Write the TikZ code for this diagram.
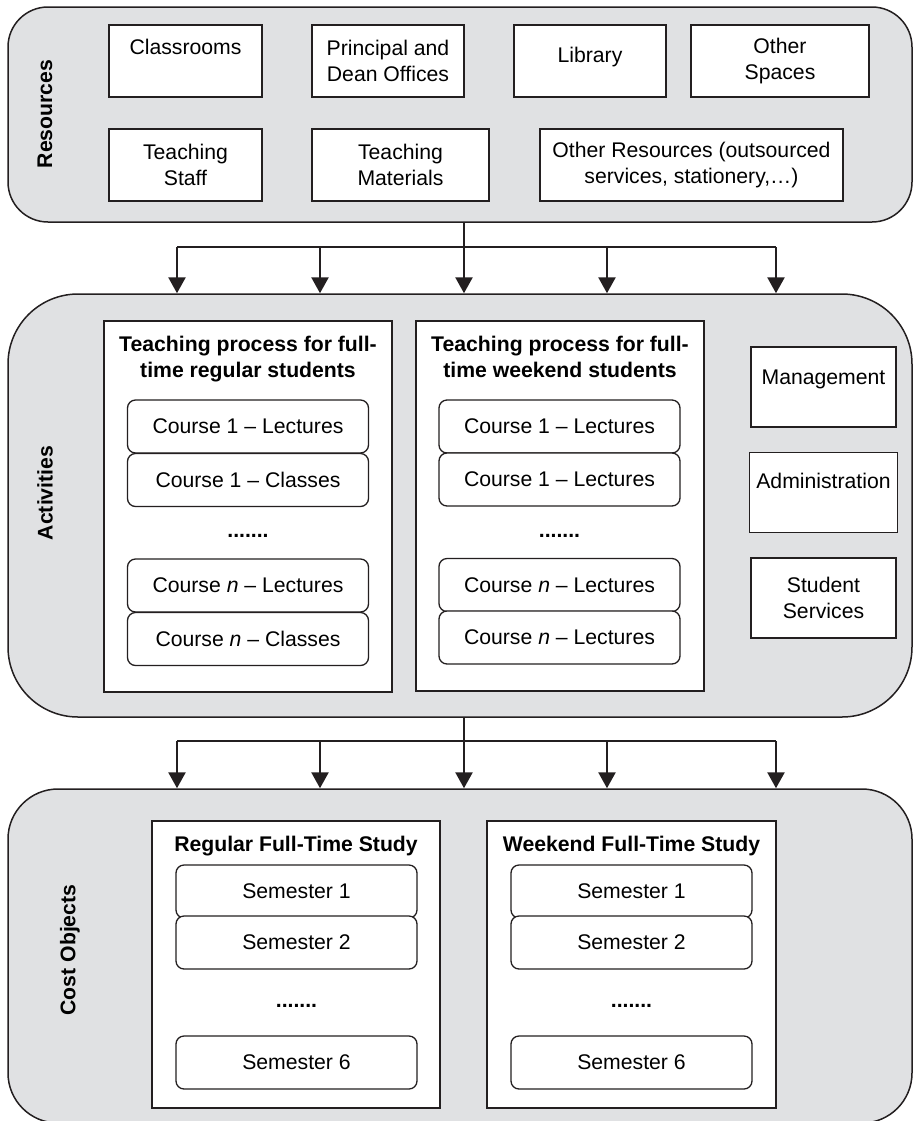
\documentclass[tikz,border=0pt]{standalone}
\usepackage{fontspec}
\setmainfont{Liberation Sans}
\usetikzlibrary{arrows.meta,positioning}

\definecolor{panelgray}{HTML}{E0E1E3}
\definecolor{inkgray}{HTML}{231F20}
\newcommand{\diagfont}{\fontsize{10.6}{13}\selectfont}

\tikzset{
  panel/.style={draw=inkgray, fill=panelgray, line width=0.75pt},
  sidelabel/.style={rotate=90, font=\diagfont\bfseries},
  resbox/.style={draw=inkgray, fill=white, line width=0.65pt, align=center, font=\diagfont, minimum height=36pt},
  lifted/.style={text height=8pt, text depth=#1},
  grpbox/.style={draw=inkgray, fill=white, line width=0.65pt},
  grptitle/.style={font=\diagfont\bfseries, align=center, inner sep=0pt},
  coursebox/.style={draw=inkgray, fill=white, line width=0.65pt, rounded corners=4pt, font=\diagfont, minimum width=120.5pt, minimum height=26.5pt},
  dotrow/.style={font=\diagfont\bfseries},
  link/.style={draw=inkgray, line width=0.65pt},
  freccia/.style={draw=inkgray, line width=1.3pt, -{Triangle[length=8pt,width=8.5pt]}}
}

\begin{document}
\begin{tikzpicture}[x=0.5pt, y=-0.5pt]
\useasboundingbox (0,0) rectangle (914,1121);
\clip (0,0) rectangle (914,1121);

% panels
\node[panel, rounded corners=20pt, minimum width=452pt, minimum height=107.5pt] (resources) at (460,114.5) {};
\node[panel, rounded corners=35pt, minimum width=452pt, minimum height=211.5pt] (activities) at (460,505.5) {};
\node[panel, rounded corners=25pt, minimum width=452pt, minimum height=167pt] (costobj) at (460,956) {};

\node[sidelabel] (reslabel) at (45,114) {Resources};
\node[sidelabel] (actlabel) at (45,493) {Activities};
\node[sidelabel] (costlabel) at (70,950) {Cost Objects};

% resources
\node[resbox, lifted=14.6pt, minimum width=76.5pt] (classrooms) at (185.5,61) {Classrooms};
\node[resbox, minimum width=76pt] (offices) at (388,61) {Principal and\\Dean Offices};
\node[resbox, lifted=6.8pt, minimum width=76pt] (library) at (590,61) {Library};
\node[resbox, minimum width=89pt] (spaces) at (780,61) {Other\\Spaces};
\node[resbox, minimum width=76.5pt] (staff) at (185.5,165) {Teaching\\Staff};
\node[resbox, minimum width=88.5pt] (materials) at (400.5,165) {Teaching\\Materials};
\node[resbox, minimum width=151.5pt] (otherres) at (691.5,165) {Other Resources (outsourced\\services, stationery,\dots)};

% resources -> activities
\foreach \x [count=\i] in {177,320,464,607,776} {
  \coordinate (t\i) at (\x,247);
  \draw[freccia] (t\i) -- (t\i |- activities.north);
}
\draw[link] (t3 |- resources.south) -- (t3);
\draw[link] (t1) -- (t5);

% activities
\node[grpbox, minimum width=144pt, minimum height=185.5pt] (grpreg) at (248,506.5) {};
\node[grptitle, below=7.5pt of grpreg.north] (titreg) {Teaching process for full-\\time regular students};
\node[coursebox] (reg1l) at (248,426.5) {Course 1 -- Lectures};
\node[coursebox] (reg1c) at (248,480) {Course 1 -- Classes};
\node[dotrow] (regdots) at (248,536) {.......};
\node[coursebox] (regnl) at (248,585.5) {Course \textit{n} -- Lectures};
\node[coursebox] (regnc) at (248,639) {Course \textit{n} -- Classes};

\node[grpbox, minimum width=144pt, minimum height=185pt] (grpwk) at (560,506) {};
\node[grptitle, below=7.5pt of grpwk.north] (titwk) {Teaching process for full-\\time weekend students};
\node[coursebox] (wk1l) at (559.5,426.5) {Course 1 -- Lectures};
\node[coursebox] (wk1c) at (559.5,479.5) {Course 1 -- Lectures};
\node[dotrow] (wkdots) at (559.5,536) {.......};
\node[coursebox] (wknl) at (559.5,585) {Course \textit{n} -- Lectures};
\node[coursebox] (wknc) at (559.5,637.5) {Course \textit{n} -- Lectures};

\node[resbox, lifted=10.4pt, minimum width=72.5pt, minimum height=40pt] (management) at (823.5,387) {Management};
\node[resbox, lifted=11.8pt, minimum width=72.5pt, minimum height=39.75pt] (admin) at (823.5,492.5) {Administration};
\node[resbox, minimum width=72.5pt, minimum height=40pt] (services) at (823.5,598) {Student\\Services};

% activities -> cost objects
\foreach \x [count=\i] in {177,320,464,607,776} {
  \coordinate (s\i) at (\x,741);
  \draw[freccia] (s\i) -- (s\i |- costobj.north);
}
\draw[link] (s3 |- activities.south) -- (s3);
\draw[link] (s1) -- (s5);

% cost objects
\node[grpbox, minimum width=144pt, minimum height=143.5pt] (costreg) at (296,964.5) {};
\node[grptitle, below=7.8pt of costreg.north] (titcreg) {Regular Full-Time Study};
\node[coursebox] (creg1) at (296.5,891.5) {Semester 1};
\node[coursebox] (creg2) at (296.5,942.5) {Semester 2};
\node[dotrow] (cregdots) at (296.5,1006) {.......};
\node[coursebox] (creg6) at (296.5,1062.5) {Semester 6};

\node[grpbox, minimum width=144.5pt, minimum height=143.5pt] (costwk) at (631.5,964.5) {};
\node[grptitle, below=7.8pt of costwk.north] (titcwk) {Weekend Full-Time Study};
\node[coursebox] (cwk1) at (631.5,891.5) {Semester 1};
\node[coursebox] (cwk2) at (631.5,942.5) {Semester 2};
\node[dotrow] (cwkdots) at (631.5,1006) {.......};
\node[coursebox] (cwk6) at (631.5,1062.5) {Semester 6};
\end{tikzpicture}
\end{document}
